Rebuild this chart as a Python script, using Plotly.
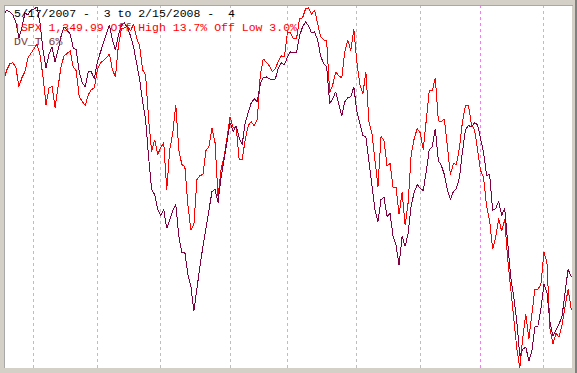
import plotly.graph_objects as go

# Chart levels (0 = bottom of chart, ~363 = top),
# one value per trading day from 5/17/2007 to 2/15/2008
spx_level = [
    290, 300, 306, 307, 303, 283, 292, 298, 312, 316,
    321, 326, 315, 293, 265, 282, 283, 262, 282, 304,
    314, 317, 319, 303, 299, 273, 269, 264, 275, 280,
    282, 300, 307, 309, 312, 316, 300, 293, 325, 341,
    342, 344, 339, 346, 332, 324, 300, 295, 250, 218,
    230, 215, 222, 227, 180, 220, 237, 265, 220, 205,
    203, 165, 139, 145, 190, 194, 195, 219, 223, 242,
    227, 173, 200, 213, 232, 253, 242, 243, 210, 210,
    230, 244, 248, 244, 250, 295, 311, 307, 304, 298,
    301, 309, 314, 313, 338, 337, 331, 331, 351, 352,
    361, 362, 356, 360, 346, 333, 330, 329, 277, 285,
    298, 294, 292, 318, 330, 319, 341, 308, 285, 276,
    298, 248, 236, 210, 183, 233, 229, 204, 206, 182,
    182, 155, 177, 144, 167, 215, 231, 241, 237, 220,
    250, 279, 279, 292, 249, 248, 251, 225, 195, 206,
    205, 222, 248, 264, 264, 245, 240, 220, 199, 192,
    163, 149, 120, 132, 151, 138, 150, 110, 80, 45,
    21, 1, 32, 55, 30, 55, 80, 80, 85, 117,
    107, 40, 25, 36, 32, 44, 64, 80, 61, 55,
]

dvt_level = [
    355, 360, 358, 355, 348, 332, 342, 357, 355, 360,
    361, 363, 347, 320, 302, 316, 323, 308, 320, 334,
    343, 340, 336, 322, 320, 298, 287, 283, 298, 298,
    291, 308, 318, 328, 336, 345, 330, 320, 335, 345,
    347, 342, 334, 323, 305, 291, 268, 250, 212, 180,
    175, 160, 154, 160, 141, 150, 159, 165, 133, 117,
    117, 95, 83, 58, 82, 103, 123, 140, 160, 178,
    180, 167, 192, 210, 230, 247, 238, 244, 232, 225,
    247, 258, 267, 271, 268, 286, 292, 293, 291, 290,
    291, 302, 307, 305, 313, 318, 317, 317, 334, 343,
    348, 344, 337, 338, 330, 314, 306, 303, 266, 271,
    278, 266, 254, 268, 272, 273, 283, 258, 247, 234,
    233, 207, 183, 160, 148, 170, 172, 153, 156, 133,
    124, 104, 133, 123, 136, 164, 177, 185, 181, 179,
    198, 220, 223, 241, 209, 204, 195, 180, 170, 178,
    181, 192, 218, 240, 244, 243, 247, 245, 231, 217,
    194, 195, 159, 161, 168, 154, 161, 130, 92, 72,
    48, 13, 20, 22, 8, 18, 42, 43, 60, 85,
    77, 47, 33, 39, 45, 53, 77, 100, 93, 92,
]

days = list(range(len(spx_level)))
month_starts = [10, 31, 52, 75, 94, 117, 138, 179]
year_starts = [158]

title_lines = [
    "5/17/2007 -  3 to 2/15/2008 -  4",
    "!SPX 1,349.99 Off High 13.7% Off Low 3.0%",
    "DV_T 6%",
]
title_colors = ["#000000", "#ff0000", "#803838"]

W, H = 577, 373
ML, MR, MT, MB = 5, 5, 6, 5
PW, PH = W - ML - MR, H - MT - MB

fig = go.Figure()
fig.add_trace(go.Scatter(x=days, y=spx_level, mode="lines",
                         line=dict(color="#ff0000", width=1), hoverinfo="skip"))
fig.add_trace(go.Scatter(x=days, y=dvt_level, mode="lines",
                         line=dict(color="#800040", width=1), hoverinfo="skip"))

shapes = []
for m in month_starts:
    shapes.append(dict(type="line", xref="x", yref="paper", x0=m, x1=m, y0=0, y1=1,
                       line=dict(color="rgb(190,190,190)", width=1, dash="3px,3px"),
                       layer="below"))
for m in year_starts:
    shapes.append(dict(type="line", xref="x", yref="paper", x0=m, x1=m, y0=0, y1=1,
                       line=dict(color="rgb(236,128,236)", width=1, dash="3px,3px"),
                       layer="below"))
# window frame edges
shapes.append(dict(type="rect", xref="paper", yref="paper",
                   x0=1 + 3 / PW, x1=1 + 6 / PW, y0=-MB / PH, y1=1 + MT / PH,
                   fillcolor="#808080", line=dict(width=0)))
shapes.append(dict(type="line", xref="paper", yref="paper",
                   x0=-1 / PW, x1=1 + 1 / PW, y0=1 + 0.5 / PH, y1=1 + 0.5 / PH,
                   line=dict(color="#a8a8a8", width=1)))
shapes.append(dict(type="line", xref="paper", yref="paper",
                   x0=-1 / PW, x1=-1 / PW, y0=0, y1=1,
                   line=dict(color="#a8a8a8", width=1)))

annotations = []
for i, (t, c) in enumerate(zip(title_lines, title_colors)):
    ypix = 13 + 14 * i
    annotations.append(dict(text=t, xref="paper", yref="paper",
                            x=(12 - ML) / PW, y=1 - (ypix - MT) / PH,
                            xanchor="left", yanchor="middle", showarrow=False,
                            font=dict(family="Liberation Mono, Courier New, monospace",
                                      size=11.5, color=c)))

fig.update_layout(
    width=W, height=H,
    margin=dict(l=ML, r=MR, t=MT, b=MB, pad=0),
    paper_bgcolor="#d4d0c8", plot_bgcolor="#ffffff",
    showlegend=False,
    xaxis=dict(range=[0.4, 188.3], visible=False, fixedrange=True),
    yaxis=dict(range=[1, 364], visible=False, fixedrange=True),
    shapes=shapes, annotations=annotations,
)

fig.write_html("out.html", config={"displayModeBar": False})

# remove the browser's default page margin so the figure sits at the window origin,
# and draw lines without anti-aliasing like the original pixel chart
css = ("<style>html,body{margin:0;padding:0;overflow:hidden;}"
       ".js-line,.shapelayer path{shape-rendering:crispEdges;}</style>")
with open("out.html", "r", encoding="utf-8") as f:
    html = f.read()
html = html.replace("<head>", "<head>" + css, 1)
with open("out.html", "w", encoding="utf-8") as f:
    f.write(html)
